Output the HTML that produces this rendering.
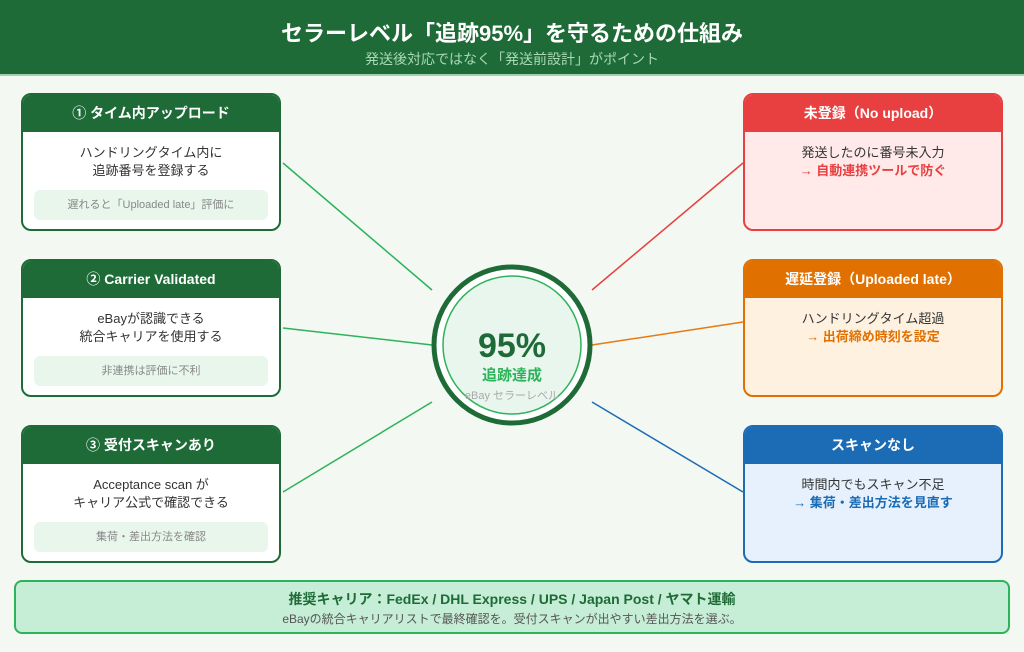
<!DOCTYPE html>
<html><head><meta charset="utf-8"><style>
*{margin:0;padding:0;box-sizing:border-box}
body{width:1024px;height:652px;background:#f3f8f2;font-family:"Liberation Sans","Noto Sans CJK JP",sans-serif;position:relative;overflow:hidden}
.hdr{position:absolute;left:0;top:0;width:1024px;height:76px;background:#1e6b37;border-bottom:2px solid #9fd3ae}
.t1{position:absolute;left:0;width:1024px;text-align:center;top:16px;color:#fff;font-size:22px;font-weight:bold}
.t2{position:absolute;left:0;width:1024px;text-align:center;top:49px;color:#a9d8b5;font-size:14px}
.box{position:absolute;width:260px;height:138px;border:2px solid #1e6b37;border-radius:10px;background:#fff;overflow:hidden}
.box .h{height:37px;line-height:37px;text-align:center;color:#fff;font-weight:bold;font-size:14px;background:#1e6b37}
.box .b{text-align:center;font-size:13px;color:#333;line-height:18px;padding-top:12px}
.box .n{position:absolute;left:11px;right:11px;top:95px;height:30px;line-height:30px;background:#e8f6ec;border-radius:6px;text-align:center;font-size:11px;color:#888}
.s{font-weight:bold}
</style></head><body>
<div class="hdr"></div>
<div class="t1">セラーレベル「追跡95%」を守るための仕組み</div>
<div class="t2">発送後対応ではなく「発送前設計」がポイント</div>
<svg style="position:absolute;left:0;top:0" width="1024" height="652">
<line x1="283" y1="163" x2="432" y2="290" stroke="#2db35a" stroke-width="1.5"/>
<line x1="283" y1="328" x2="432" y2="345" stroke="#2db35a" stroke-width="1.5"/>
<line x1="283" y1="492" x2="432" y2="402" stroke="#2db35a" stroke-width="1.5"/>
<line x1="743" y1="163" x2="592" y2="290" stroke="#e84040" stroke-width="1.5"/>
<line x1="743" y1="322" x2="592" y2="345" stroke="#e87a10" stroke-width="1.5"/>
<line x1="743" y1="492" x2="592" y2="402" stroke="#1b6bb5" stroke-width="1.5"/>
<circle cx="512" cy="345" r="78" fill="#fff" stroke="#1e6b37" stroke-width="5"/>
<circle cx="512" cy="345" r="69" fill="#e8f6ee" stroke="#2db35a" stroke-width="1.5"/>
<text x="512" y="357" text-anchor="middle" font-size="34" font-weight="bold" fill="#1e6b37" font-family="Liberation Sans,sans-serif">95%</text>
<text x="512" y="380" text-anchor="middle" font-size="15" font-weight="bold" fill="#2db35a" font-family="Liberation Sans,Noto Sans CJK JP,sans-serif">追跡達成</text>
<text x="512" y="399" text-anchor="middle" font-size="11" fill="#aaa" font-family="Liberation Sans,Noto Sans CJK JP,sans-serif">eBay セラーレベル</text>
</svg>
<div class="box" style="left:21px;top:93px"><div class="h">① タイム内アップロード</div><div class="b">ハンドリングタイム内に<br>追跡番号を登録する</div><div class="n">遅れると「Uploaded late」評価に</div></div>
<div class="box" style="left:21px;top:259px"><div class="h">② Carrier Validated</div><div class="b">eBayが認識できる<br>統合キャリアを使用する</div><div class="n">非連携は評価に不利</div></div>
<div class="box" style="left:21px;top:425px"><div class="h">③ 受付スキャンあり</div><div class="b">Acceptance scan が<br>キャリア公式で確認できる</div><div class="n">集荷・差出方法を確認</div></div>
<div class="box" style="left:743px;top:93px;border-color:#e84040;background:#ffe9e9"><div class="h" style="background:#e84040">未登録（No upload）</div><div class="b">発送したのに番号未入力<br><span class="s" style="color:#e84040">→ 自動連携ツールで防ぐ</span></div></div>
<div class="box" style="left:743px;top:259px;border-color:#e07000;background:#fff1e0"><div class="h" style="background:#e07000">遅延登録（Uploaded late）</div><div class="b">ハンドリングタイム超過<br><span class="s" style="color:#e07000">→ 出荷締め時刻を設定</span></div></div>
<div class="box" style="left:743px;top:425px;border-color:#1b6bb5;background:#e6f1fd"><div class="h" style="background:#1b6bb5">スキャンなし</div><div class="b">時間内でもスキャン不足<br><span class="s" style="color:#1b6bb5">→ 集荷・差出方法を見直す</span></div></div>
<div style="position:absolute;left:14px;top:580px;width:996px;height:54px;background:#c6eed6;border:2px solid #2db35a;border-radius:8px;text-align:center">
<div style="font-size:14px;font-weight:bold;color:#1e6b37;margin-top:8px;line-height:18px">推奨キャリア：FedEx / DHL Express / UPS / Japan Post / ヤマト運輸</div>
<div style="font-size:12px;color:#555;margin-top:3px;line-height:16px">eBayの統合キャリアリストで最終確認を。受付スキャンが出やすい差出方法を選ぶ。</div>
</div>
</body></html>
